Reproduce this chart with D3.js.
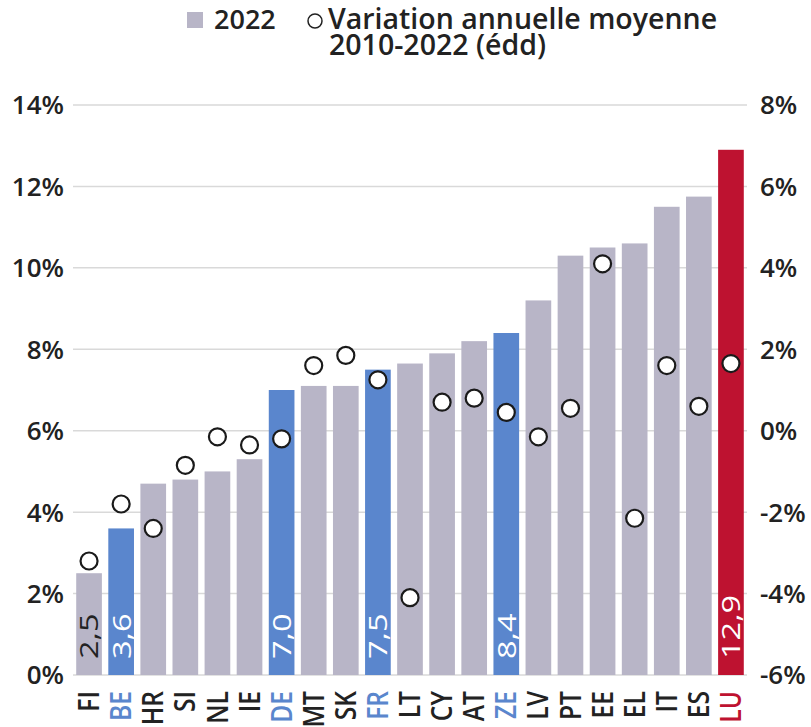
<!DOCTYPE html>
<html>
<head>
<meta charset="utf-8">
<script src="https://cdn.jsdelivr.net/npm/d3@7"></script>
<style>
  body { margin: 0; background: #fff; }
  svg text { font-family: "Open Sans", "Noto Sans", sans-serif; fill: #222; }
</style>
</head>
<body>
<div id="chart"></div>
<script>
// data
var countries = ["FI","BE","HR","SI","NL","IE","DE","MT","SK","FR","LT","CY","AT","ZE","LV","PT","EE","EL","IT","ES","LU"];
var share2022 = [2.5, 3.6, 4.7, 4.8, 5.0, 5.3, 7.0, 7.1, 7.1, 7.5, 7.65, 7.9, 8.2, 8.4, 9.2, 10.3, 10.5, 10.6, 11.5, 11.75, 12.9];
var variation = [-3.2, -1.8, -2.4, -0.85, -0.15, -0.35, -0.2, 1.6, 1.85, 1.25, -4.1, 0.7, 0.8, 0.45, -0.15, 0.55, 4.1, -2.15, 1.6, 0.6, 1.65];
var labelled = {FI: "2,5", BE: "3,6", DE: "7,0", FR: "7,5", ZE: "8,4", LU: "12,9"};
var blueOnes = ["BE","DE","FR","ZE"];
var leftTicks = [0, 2, 4, 6, 8, 10, 12, 14];
var rightTicks = [-6, -4, -2, 0, 2, 4, 6, 8];

var W = 811, H = 727;
var grey = "#b8b5c7", blue = "#5a86cd", red = "#be1230";

var svg = d3.select("#chart").append("svg")
    .attr("width", W).attr("height", H);

var x = d3.scaleBand().domain(countries).range([73, 747])
    .paddingInner(0.2).paddingOuter(0.1);
var yL = d3.scaleLinear().domain([0, 14]).range([675, 105]);
var yR = d3.scaleLinear().domain([-6, 8]).range([675, 105]);

function colorOf(c) {
    if (c === "LU") return red;
    if (blueOnes.indexOf(c) >= 0) return blue;
    return grey;
}
function textColorOf(c) {
    if (c === "LU") return red;
    if (blueOnes.indexOf(c) >= 0) return blue;
    return "#222";
}

// gridlines
svg.selectAll("line.grid").data(leftTicks).enter().append("line")
    .attr("class", "grid")
    .attr("x1", 73).attr("x2", 747)
    .attr("y1", function(d){ return yL(d); })
    .attr("y2", function(d){ return yL(d); })
    .attr("stroke", "#d9d9d9").attr("stroke-width", 1.5);

// left axis labels
svg.selectAll("text.yl").data(leftTicks).enter().append("text")
    .attr("class", "yl")
    .attr("x", 64)
    .attr("y", function(d){ return yL(d); })
    .attr("dy", "0.36em")
    .attr("text-anchor", "end")
    .style("font-size", "26px").style("font-weight", 600)
    .text(function(d){ return d + "%"; });

// right axis labels
svg.selectAll("text.yr").data(rightTicks).enter().append("text")
    .attr("class", "yr")
    .attr("x", 760)
    .attr("y", function(d){ return yR(d); })
    .attr("dy", "0.36em")
    .attr("text-anchor", "start")
    .style("font-size", "26px").style("font-weight", 600)
    .text(function(d){ return d + "%"; });

// bars
svg.selectAll("rect.bar").data(countries).enter().append("rect")
    .attr("class", "bar")
    .attr("x", function(d){ return x(d); })
    .attr("y", function(d,i){ return yL(share2022[i]); })
    .attr("width", x.bandwidth())
    .attr("height", function(d,i){ return yL(0) - yL(share2022[i]); })
    .attr("fill", colorOf);

// value labels inside bars
svg.selectAll("text.val").data(countries.filter(function(c){ return labelled[c]; }))
    .enter().append("text")
    .attr("class", "val")
    .attr("transform", function(d){
        return "translate(" + (x(d) + x.bandwidth()/2) + "," + (yL(0) - 16) + ") rotate(-90) scale(1.25,1)";
    })
    .attr("dy", "0.36em")
    .style("font-size", "26px")
    .style("fill", function(d){ return d === "FI" ? "#222" : "#fff"; })
    .text(function(d){ return labelled[d]; });

// country labels
svg.selectAll("text.cty").data(countries).enter().append("text")
    .attr("class", "cty")
    .attr("transform", function(d){
        return "translate(" + (x(d) + x.bandwidth()/2) + "," + (yL(0) + 16) + ") rotate(-90) scale(0.88,1)";
    })
    .attr("dy", "0.36em")
    .attr("text-anchor", "end")
    .style("font-size", "28px").style("font-weight", 600)
    .style("fill", textColorOf)
    .text(function(d){ return d; });

// dots
svg.selectAll("circle.dot").data(countries).enter().append("circle")
    .attr("class", "dot")
    .attr("cx", function(d){ return x(d) + x.bandwidth()/2; })
    .attr("cy", function(d,i){ return yR(variation[i]); })
    .attr("r", 8.5)
    .attr("fill", "#fff")
    .attr("stroke", "#1a1a1a")
    .attr("stroke-width", 2.2);

// legend
var lg = svg.append("g");
lg.append("rect").attr("x", 187).attr("y", 12).attr("width", 16).attr("height", 16).attr("fill", grey);
lg.append("text").attr("x", 214).attr("y", 29).style("font-size", "27px").style("font-weight", 600).text("2022");
lg.append("circle").attr("cx", 315).attr("cy", 21).attr("r", 7)
    .attr("fill", "#fff").attr("stroke", "#222").attr("stroke-width", 1.5);
lg.append("text").attr("x", 328).attr("y", 29).style("font-size", "28.5px").style("font-weight", 600).text("Variation annuelle moyenne");
lg.append("text").attr("x", 329).attr("y", 55).style("font-size", "28.5px").style("font-weight", 600).text("2010-2022 (édd)");
</script>
</body>
</html>
